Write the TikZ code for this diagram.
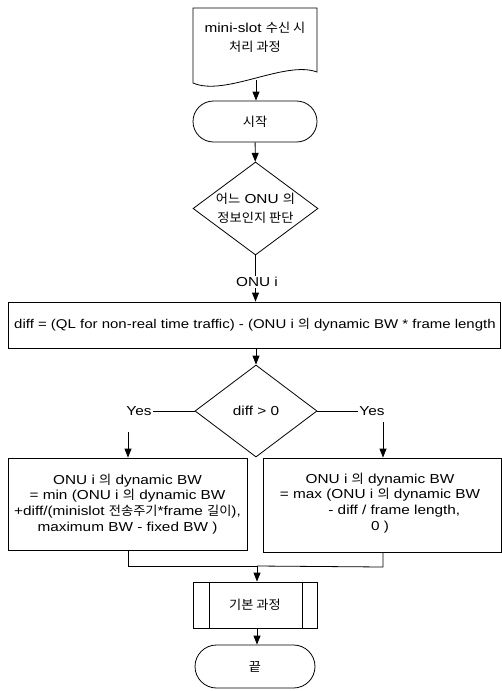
\documentclass[tikz,border=0pt]{standalone}
\usepackage{fontspec}
\setmainfont{Liberation Sans}[FakeStretch=1.18]
\newfontfamily\krfont{Noto Sans CJK KR}[Scale=0.97,FakeStretch=1.05]
\newcommand{\kr}[1]{{\krfont #1}}
\usetikzlibrary{shapes.geometric,shapes.misc,arrows.meta}
\tikzset{
  ln/.style={line width=0.8pt},
  arr/.style={ln,-{Triangle[length=9pt,width=7pt]}},
  termbox/.style={rounded rectangle,draw,ln,inner sep=0pt},
  procbox/.style={rectangle,draw,ln,inner sep=0pt},
  decbox/.style={diamond,draw,ln,inner sep=0pt},
  txt/.style={align=center,inner sep=1pt},
}
\begin{document}
\begin{tikzpicture}[x=1pt,y=-1pt,font=\fontsize{13}{15.8}\selectfont]
\useasboundingbox (0,0) rectangle (502,691);
% document
\draw[ln] (193,8) -- (317,8) -- (317,72) .. controls (285,60) and (225,97) .. (193,83) -- cycle;
\node[txt,align=center,font=\fontsize{13}{19}\selectfont] (doc) at (255,37.5) {mini-slot \kr{수신 시}\\\kr{처리 과정}};
\coordinate (docb) at (256,80);
% start
\node[termbox,minimum width=124pt,minimum height=41pt] (start) at (255,121.5) {\kr{시작}};
% decision 1
\node[decbox,minimum width=125pt,minimum height=93pt] (d1) at (255.5,208.5) {};
\node[txt,font=\fontsize{13}{19}\selectfont] (d1t) at (d1) {\kr{어느} ONU \kr{의}\\\kr{정보인지 판단}};
\node[txt] (onui) at (257,282) {ONU i};
% calc box
\node[procbox,minimum width=492pt,minimum height=46pt] (calc) at (254,325) {};
\node[txt,anchor=west,font=\fontsize{12.7}{15}\selectfont] (calct) at (13,325) {diff = (QL for non-real time traffic) - (ONU i \kr{의} dynamic BW * frame length};
% decision 2
\node[decbox,minimum width=122pt,minimum height=92pt] (d2) at (256,411) {};
\node[txt] (d2t) at (d2) {diff {>} 0};
\node[txt] (yesL) at (139,411) {Yes};
\node[txt] (yesR) at (372,411) {Yes};
\coordinate (aL) at (128,432);
\coordinate (aR) at (383,422);
% result boxes
\node[procbox,minimum width=239pt,minimum height=92pt] (boxL) at (127.5,504) {};
\node[txt] (boxLt) at (boxL.center) {ONU i \kr{의} dynamic BW\\= min (ONU i \kr{의} dynamic BW\\+diff/(minislot \kr{전송주기}*frame \kr{길이}),\\maximum BW - fixed BW )};
\node[procbox,minimum width=238pt,minimum height=94pt] (boxR) at (382.5,505) {};
\node[txt] (boxRt) at (380,503) {ONU i \kr{의} dynamic BW\\= max (ONU i \kr{의} dynamic BW\\\hspace{2.2em}- diff / frame length,\\0 )};
% merge
\coordinate (mL) at (128,566);
\coordinate (mR) at (383,567);
\coordinate (mC) at (257,566);
% predefined process
\node[procbox,minimum width=124pt,minimum height=46pt] (pp) at (255,605) {\kr{기본 과정}};
\draw[ln] ([xshift=17pt]pp.north west) -- ([xshift=17pt]pp.south west);
\draw[ln] ([xshift=-15pt]pp.north east) -- ([xshift=-15pt]pp.south east);
% end
\node[termbox,minimum width=120pt,minimum height=43pt] (stop) at (255,666.5) {\kr{끝}};
% connectors
\draw[arr] (docb) -- (start.north -| docb);
\draw[arr] (start) -- (d1);
\draw[ln] (d1.south) -- (onui.north -| d1.south);
\draw[arr] (onui.south -| d1.south) -- (calc.north -| d1.south);
\draw[arr] (calc.south -| d2.north) -- (d2.north);
\draw[ln] (d2.west) -- (yesL.east);
\draw[ln] (d2.east) -- (yesR.west);
\draw[arr] (aL) -- (boxL.north -| aL);
\draw[arr] (aR) -- (boxR.north -| aR);
\draw[ln] (boxL.south -| mL) -- (mL) -- (mC);
\draw[ln] (boxR.south -| mR) -- (mR) -- (mC);
\draw[arr] (mC) -- (pp.north -| mC);
\draw[arr] (pp.south -| mC) -- (stop.north -| mC);
\end{tikzpicture}
\end{document}
